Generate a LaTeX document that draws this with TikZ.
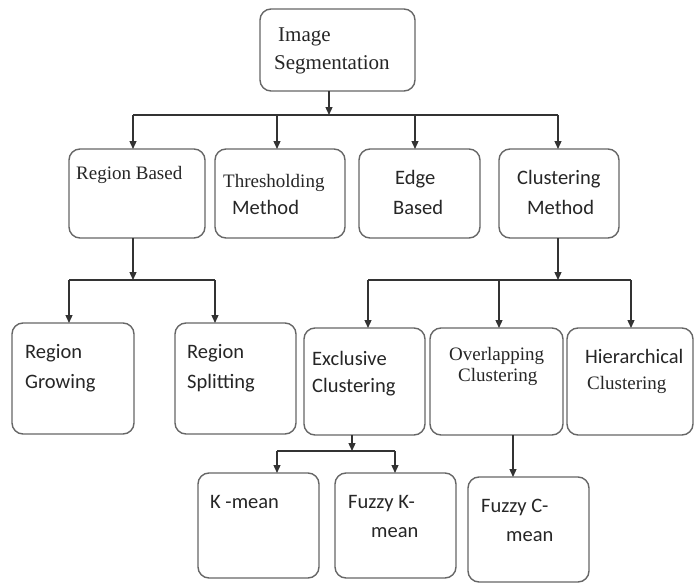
\documentclass[tikz,border=0pt]{standalone}
\usepackage{fontspec}
\setmainfont{Carlito}
\newfontfamily\srf{Liberation Serif}
\usetikzlibrary{arrows.meta}
\begin{document}
\begin{tikzpicture}[x=1pt,y=-1pt,
  box/.style={draw=black!60,line width=1.4pt,rounded corners=11pt,fill=white,inner sep=0pt,outer sep=0pt,anchor=north west},
  conn/.style={draw=black!80,line width=1.3pt},
  arr/.style={conn,-{Triangle[length=8pt,width=7pt]}},
  lbl/.style={anchor=west,inner sep=0pt,text=black!85,font=\fontsize{20.5}{24}\selectfont},
  slbl/.style={anchor=west,inner sep=0pt,text=black!85,font=\srf\fontsize{19}{22}\selectfont},
  tlbl/.style={anchor=west,inner sep=0pt,text=black!85,font=\srf\fontsize{21}{24}\selectfont}]
\useasboundingbox (0,0) rectangle (694,584);
% boxes
\node[box,minimum width=155pt,minimum height=82pt] (root) at (260,9) {};
\node[box,minimum width=136pt,minimum height=89pt] (rb) at (69,149) {};
\node[box,minimum width=130pt,minimum height=89pt] (th) at (215,149) {};
\node[box,minimum width=121pt,minimum height=89pt] (eb) at (359,149) {};
\node[box,minimum width=120pt,minimum height=89pt] (cm) at (499,149) {};
\node[box,minimum width=122pt,minimum height=111pt] (rg) at (12,323) {};
\node[box,minimum width=121pt,minimum height=111pt] (rs) at (175,323) {};
\node[box,minimum width=121pt,minimum height=107pt] (ec) at (304,328) {};
\node[box,minimum width=133pt,minimum height=107pt] (oc) at (430,328) {};
\node[box,minimum width=126pt,minimum height=107pt] (hc) at (567,328) {};
\node[box,minimum width=121pt,minimum height=105pt] (km) at (198,473) {};
\node[box,minimum width=121pt,minimum height=105pt] (fk) at (335,473) {};
\node[box,minimum width=121pt,minimum height=105pt] (fc) at (468,477) {};
% labels
\node[tlbl] (t1) at (278,37) {Image};
\node[tlbl] (t2) at (274,65) {Segmentation};
\node[slbl] (t3) at (76,175) {Region Based};
\node[slbl] (t4) at (223,183) {Thresholding};
\node[lbl] (t5) at (232,207) {Method};
\node[lbl] (t6) at (395,179) {Edge};
\node[lbl] (t7) at (393,207) {Based};
\node[lbl] (t8) at (517,179) {Clustering};
\node[lbl] (t9) at (527,207) {Method};
\node[lbl] (t10) at (25,353) {Region};
\node[lbl] (t11) at (25,383) {Growing};
\node[lbl] (t12) at (187,353) {Region};
\node[lbl] (t13) at (187,383) {Splitting};
\node[lbl] (t14) at (312,358) {Exclusive};
\node[lbl] (t15) at (312,387) {Clustering};
\node[slbl] (t16) at (449,356) {Overlapping};
\node[slbl] (t17) at (458,377) {Clustering};
\node[lbl] (t18) at (585,356) {Hierarchical};
\node[slbl] (t19) at (587,385) {Clustering};
\node[lbl] (t20) at (210,502) {K -mean};
\node[lbl] (t21) at (348,504) {Fuzzy K-};
\node[lbl] (t22) at (371,533) {mean};
\node[lbl] (t23) at (481,507) {Fuzzy C-};
\node[lbl] (t24) at (506,537) {mean};
% connectors level 1
\coordinate (j0) at (329,115);
\coordinate (d1) at (133,115);
\coordinate (d2) at (277,115);
\coordinate (d3) at (415,115);
\coordinate (d4) at (558,115);
\draw[conn] (d1) -- (d4);
\draw[arr] (root.south -| j0) -- (j0);
\draw[arr] (d1) -- (d1 |- rb.north);
\draw[arr] (d2) -- (d2 |- th.north);
\draw[arr] (d3) -- (d3 |- eb.north);
\draw[arr] (d4) -- (d4 |- cm.north);
% region based
\coordinate (j1) at (133,280);
\coordinate (e1) at (69,280);
\coordinate (e2) at (215,280);
\draw[conn] (e1) -- (e2);
\draw[arr] (rb.south -| j1) -- (j1);
\draw[arr] (e1) -- (e1 |- rg.north);
\draw[arr] (e2) -- (e2 |- rs.north);
% clustering
\coordinate (j2) at (558,280);
\coordinate (f1) at (368,280);
\coordinate (f2) at (499,280);
\coordinate (f3) at (631,280);
\draw[conn] (f1) -- (f3);
\draw[arr] (cm.south -| j2) -- (j2);
\draw[arr] (f1) -- (f1 |- ec.north);
\draw[arr] (f2) -- (f2 |- oc.north);
\draw[arr] (f3) -- (f3 |- hc.north);
% exclusive
\coordinate (j3) at (352,451);
\coordinate (g1) at (277,451);
\coordinate (g2) at (395,451);
\draw[conn] (g1) -- (g2);
\draw[arr] (ec.south -| j3) -- (j3);
\draw[arr] (g1) -- (g1 |- km.north);
\draw[arr] (g2) -- (g2 |- fk.north);
% overlapping
\coordinate (j4) at (513,0);
\draw[arr] (oc.south -| j4) -- (fc.north -| j4);
\end{tikzpicture}
\end{document}
